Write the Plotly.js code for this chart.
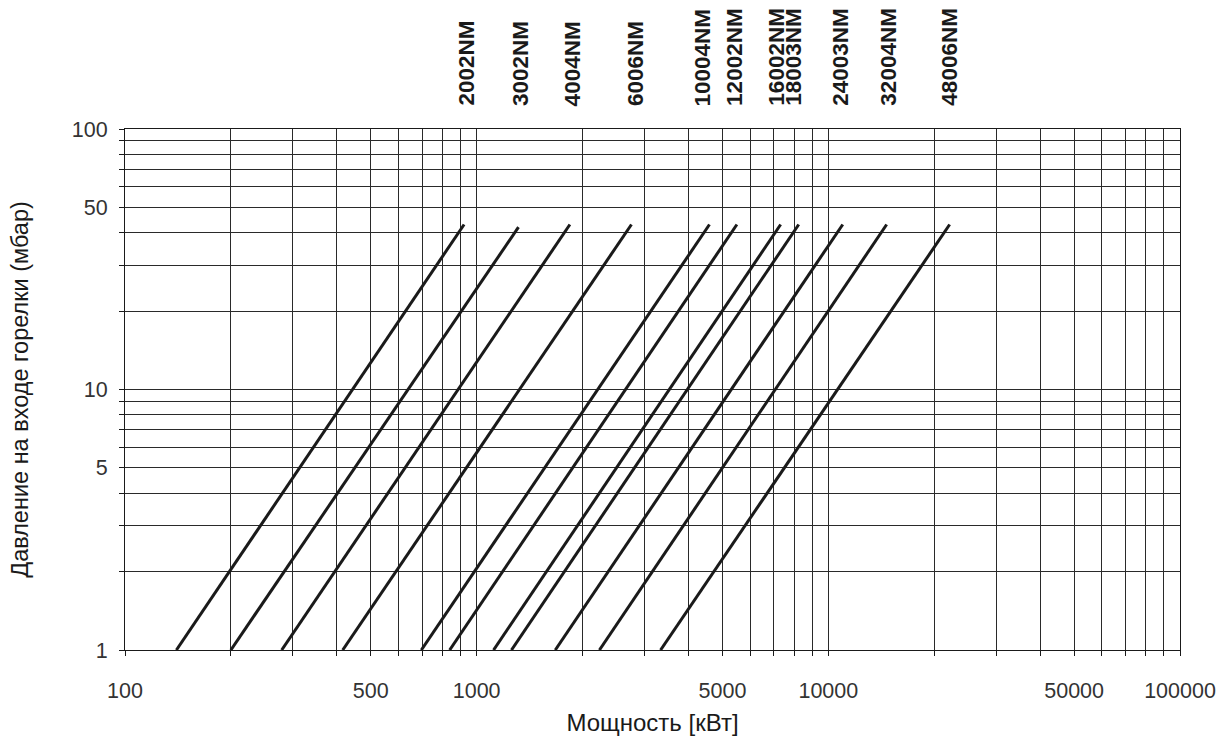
<!DOCTYPE html>
<html>
<head>
<meta charset="utf-8">
<script src="https://cdn.plot.ly/plotly-3.0.1.min.js"></script>
<style>html,body{margin:0;padding:0;background:#fff;}#chart{width:1224px;height:740px;}</style>
</head>
<body>
<div id="chart"></div>
<script>
// Burner models
const models = ["2002NM","3002NM","4004NM","6006NM","10004NM","12002NM","16002NM","18003NM","24003NM","32004NM","48006NM"];
// Power [kW] at the lower end of each line (pressure = 1 mbar)
const powerLow = [140, 200, 279, 416, 696, 838, 1117, 1256, 1673, 2234, 3334];
// Power [kW] at the upper end of each line
const powerHigh = [921, 1315, 1841, 2755, 4592, 5495, 7318, 8238, 10990, 14650, 22130];
// Pressure [mbar] at the lower and upper ends
const pressureLow = [1, 1, 1, 1, 1, 1, 1, 1, 1, 1, 1];
const pressureHigh = [43, 42, 43, 43, 43, 43, 43, 43, 43, 43, 43];
// Label horizontal nudges (px)
const labelShift = [2, 2, 3, 4, -7, -3, -5, -6, -3, 1, -1];

// Axis grid / tick values
const xGrid = [100,200,300,400,500,600,700,800,900,1000,2000,3000,4000,5000,6000,7000,8000,9000,10000,20000,30000,40000,50000,60000,70000,80000,90000,100000];
const xLabels = ["100","500","1000","5000","10000","50000","100000"];
const yGrid = [1,2,3,4,5,6,7,8,9,10,20,30,40,50,60,70,80,90,100];
const yLabels = ["1","5","10","50","100"];

const xText = xGrid.map(v => xLabels.includes(String(v)) ? String(v) : "");
const yText = yGrid.map(v => yLabels.includes(String(v)) ? String(v) : "");

const FONT = "Liberation Sans, Arial, sans-serif";

const traces = models.map((m, i) => ({
  type: "scatter",
  mode: "lines",
  x: [powerLow[i], powerHigh[i]],
  y: [pressureLow[i], pressureHigh[i]],
  line: {color: "#1a1a1a", width: 3},
  name: m,
  hoverinfo: "x+y+name"
}));

const annotations = models.map((m, i) => ({
  x: Math.log10(powerHigh[i]),
  y: 1,
  xref: "x",
  yref: "paper",
  yshift: 21,
  xshift: labelShift[i],
  text: "<b>" + m + "</b>",
  textangle: -90,
  showarrow: false,
  xanchor: "center",
  yanchor: "bottom",
  font: {family: FONT, size: 22.5, color: "#1a1a1a"}
}));

const axisCommon = {
  type: "log",
  showgrid: true,
  gridcolor: "#2a2a2a",
  gridwidth: 1,
  showline: true,
  linecolor: "#1a1a1a",
  linewidth: 1,
  mirror: true,
  ticks: "outside",
  ticklen: 5,
  tickcolor: "#1a1a1a",
  tickwidth: 1,
  zeroline: false,
  tickmode: "array",
  tickfont: {family: FONT, size: 21.5, color: "#333"}
};

const layout = {
  width: 1224,
  height: 740,
  margin: {l: 125, r: 44, t: 129, b: 90},
  paper_bgcolor: "#fff",
  plot_bgcolor: "#fff",
  showlegend: false,
  xaxis: Object.assign({}, axisCommon, {
    range: [2, 5],
    tickvals: xGrid,
    ticktext: xText,
    ticklabelstandoff: 16,
    title: {text: "Мощность [кВт]", standoff: 12, font: {family: FONT, size: 24, color: "#1a1a1a"}}
  }),
  yaxis: Object.assign({}, axisCommon, {
    range: [0, 2],
    tickvals: yGrid,
    ticktext: yText,
    ticklabelstandoff: 7,
    title: {text: "Давление на входе горелки (мбар)", standoff: 36, font: {family: FONT, size: 23.5, color: "#1a1a1a"}}
  }),
  annotations: annotations
};

Plotly.newPlot("chart", traces, layout, {displayModeBar: false, staticPlot: true});
</script>
</body>
</html>
